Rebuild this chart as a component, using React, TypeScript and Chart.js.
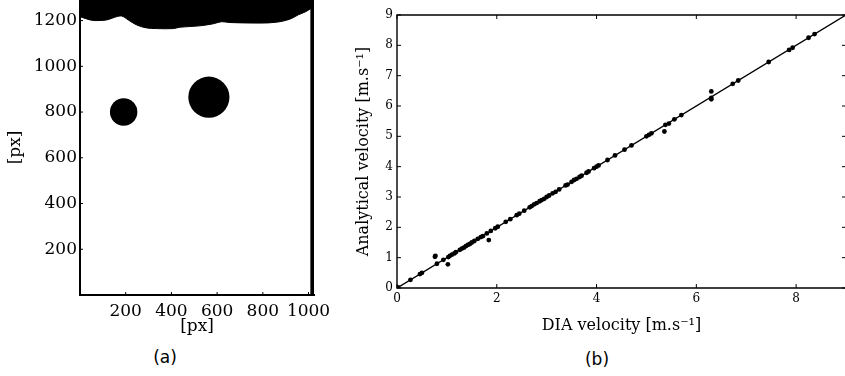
import React, { useEffect, useRef } from "react";
import { Chart, registerables } from "chart.js";

Chart.register(...registerables);

const SERIF = "'DejaVu Serif', serif";
const SANS = "'DejaVu Sans', sans-serif";
Chart.defaults.font.family = SERIF;
Chart.defaults.color = "#000";

// (a) binarised camera frame, in image pixels
const frameXTicks = [200, 400, 600, 800, 1000];
const frameYTicks = [200, 400, 600, 800, 1000, 1200];
const frameXMax = 1024;
const frameYMax = 1290;
const surfaceX = [0, 44, 66, 117, 153, 182, 211, 248, 291, 335, 408, 437, 524, 583, 619, 650, 670, 787, 860, 918, 955, 990, 1012, 1024];
const surfaceY = [1217, 1203, 1200, 1203, 1215, 1220, 1203, 1181, 1168, 1165, 1165, 1171, 1177, 1186, 1195, 1192, 1191, 1189, 1193, 1206, 1225, 1240, 1254, 1260];
const wallX = [1019, 1019];
const wallY = [0, 1290];
const dropX = [191, 564];
const dropY = [800, 865];
const dropRadius = [60, 90];

// (b) velocity comparison
const velXTicks = [0, 2, 4, 6, 8];
const velYTicks = [0, 1, 2, 3, 4, 5, 6, 7, 8, 9];
const velMax = 9;
const diaVelocity = [
  0.02, 0.27, 0.46, 0.5, 0.77, 0.76, 0.8, 0.93, 1.02, 1.03, 1.06, 1.1, 1.15, 1.18,
  1.26, 1.3, 1.34, 1.38, 1.42, 1.46, 1.5, 1.55, 1.62, 1.68, 1.72, 1.8, 1.84, 1.88,
  1.97, 2.02, 2.18, 2.27, 2.4, 2.45, 2.55, 2.66, 2.7, 2.75, 2.8, 2.86, 2.9, 2.95,
  3.0, 3.05, 3.12, 3.18, 3.25, 3.38, 3.42, 3.5, 3.55, 3.6, 3.66, 3.7, 3.8, 3.84,
  3.95, 4.0, 4.04, 4.22, 4.37, 4.56, 4.7, 5.0, 5.05, 5.1, 5.36, 5.38, 5.45, 5.56,
  5.7, 6.3, 6.3, 6.3, 6.73, 6.84, 7.45, 7.86, 7.93, 8.25, 8.37,
];
const analyticalVelocity = [
  0.02, 0.27, 0.46, 0.5, 1.06, 1.03, 0.8, 0.93, 0.78, 1.02, 1.06, 1.1, 1.14, 1.18,
  1.26, 1.3, 1.33, 1.38, 1.42, 1.45, 1.5, 1.55, 1.62, 1.68, 1.71, 1.8, 1.58, 1.88,
  1.97, 2.02, 2.18, 2.27, 2.4, 2.45, 2.55, 2.66, 2.7, 2.76, 2.8, 2.86, 2.9, 2.94,
  3.0, 3.05, 3.12, 3.17, 3.25, 3.38, 3.41, 3.5, 3.56, 3.6, 3.66, 3.7, 3.8, 3.84,
  3.95, 4.0, 4.04, 4.22, 4.37, 4.56, 4.7, 5.0, 5.05, 5.1, 5.16, 5.38, 5.42, 5.56,
  5.7, 6.48, 6.27, 6.22, 6.73, 6.84, 7.45, 7.85, 7.92, 8.25, 8.37,
];
const identityX = [0, 9];
const identityY = [0, 9];

type Side = "left" | "right" | "top" | "bottom";

// Axis lines and inward tick marks drawn on the chart area edges
function framePlugin(lineSides: Side[], tickSides: Side[], lineWidth: number, tickLen: number) {
  return {
    id: "frame",
    afterDraw(chart: any) {
      const { ctx, chartArea: a } = chart;
      const sx = chart.scales.x;
      const sy = chart.scales.y;
      ctx.save();
      ctx.strokeStyle = "#000";
      ctx.lineWidth = 1;
      ctx.beginPath();
      for (const t of sx.ticks) {
        const p = sx.getPixelForValue(t.value);
        if (tickSides.includes("bottom")) { ctx.moveTo(p, a.bottom); ctx.lineTo(p, a.bottom - tickLen); }
        if (tickSides.includes("top")) { ctx.moveTo(p, a.top); ctx.lineTo(p, a.top + tickLen); }
      }
      for (const t of sy.ticks) {
        const p = sy.getPixelForValue(t.value);
        if (tickSides.includes("left")) { ctx.moveTo(a.left, p); ctx.lineTo(a.left + tickLen, p); }
        if (tickSides.includes("right")) { ctx.moveTo(a.right, p); ctx.lineTo(a.right - tickLen, p); }
      }
      ctx.stroke();
      ctx.lineWidth = lineWidth;
      ctx.lineCap = "square";
      ctx.beginPath();
      if (lineSides.includes("left")) { ctx.moveTo(a.left, a.top); ctx.lineTo(a.left, a.bottom); }
      if (lineSides.includes("right")) { ctx.moveTo(a.right, a.top); ctx.lineTo(a.right, a.bottom); }
      if (lineSides.includes("top")) { ctx.moveTo(a.left, a.top); ctx.lineTo(a.right, a.top); }
      if (lineSides.includes("bottom")) { ctx.moveTo(a.left, a.bottom); ctx.lineTo(a.right, a.bottom); }
      ctx.stroke();
      ctx.restore();
    },
  };
}

function axis(
  min: number,
  max: number,
  ticks: number[],
  size: number,
  fontSize: number,
  tickPad: number,
  title: string,
  titleSize: number,
  titlePad: any,
  vertical: boolean
) {
  return {
    type: "linear",
    min,
    max,
    grid: { display: false, drawTicks: false },
    border: { display: false },
    afterBuildTicks: (scale: any) => {
      scale.ticks = ticks.map((v) => ({ value: v }));
    },
    afterFit: (scale: any) => {
      if (vertical) scale.width = size;
      else scale.height = size;
      scale.paddingLeft = 0;
      scale.paddingRight = 0;
      scale.paddingTop = 0;
      scale.paddingBottom = 0;
    },
    ticks: {
      color: "#000",
      padding: tickPad,
      autoSkip: false,
      maxRotation: 0,
      font: { family: SERIF, size: fontSize },
      callback: (v: any) => String(v),
    },
    title: {
      display: true,
      text: title,
      color: "#000",
      padding: titlePad,
      font: { family: SERIF, size: titleSize },
    },
  };
}

function frameConfig(): any {
  return {
    type: "scatter",
    data: {
      datasets: [
        {
          // liquid above the free surface
          type: "line",
          data: surfaceX.map((x, i) => ({ x, y: surfaceY[i] })),
          borderColor: "#000",
          backgroundColor: "#000",
          borderWidth: 1,
          pointRadius: 0,
          tension: 0.35,
          fill: "end",
        },
        {
          // container wall
          type: "line",
          data: wallX.map((x, i) => ({ x, y: wallY[i] })),
          borderColor: "#000",
          borderWidth: 5,
          pointRadius: 0,
          fill: false,
        },
        {
          // falling drops, radius given in image pixels
          data: dropX.map((x, i) => ({ x, y: dropY[i] })),
          backgroundColor: "#000",
          borderWidth: 0,
          pointRadius: (ctx: any) => {
            const s = ctx.chart.scales.x;
            return Math.abs(s.getPixelForValue(dropRadius[ctx.dataIndex]) - s.getPixelForValue(0));
          },
        },
      ],
    },
    options: {
      responsive: false,
      animation: false,
      events: [],
      layout: { padding: { top: 0, right: 31, left: 0, bottom: 0 } },
      plugins: { legend: { display: false }, tooltip: { enabled: false } },
      scales: {
        x: axis(0, frameXMax, frameXTicks, 47, 17, 6, "[px]", 17, { top: 0, bottom: 5 }, false),
        y: axis(0, frameYMax, frameYTicks, 80, 17, 3, "[px]", 17, { top: 5, bottom: 0 }, true),
      },
    },
    plugins: [framePlugin(["left", "bottom"], ["left", "bottom"], 2, 3)],
  };
}

function velocityConfig(): any {
  return {
    type: "scatter",
    data: {
      datasets: [
        {
          type: "line",
          data: identityX.map((x, i) => ({ x, y: identityY[i] })),
          borderColor: "#000",
          borderWidth: 1.4,
          pointRadius: 0,
          fill: false,
        },
        {
          data: diaVelocity.map((x, i) => ({ x, y: analyticalVelocity[i] })),
          backgroundColor: "#000",
          borderWidth: 0,
          pointRadius: 2.4,
        },
      ],
    },
    options: {
      responsive: false,
      animation: false,
      events: [],
      layout: { padding: { top: 15, right: 3, left: 0, bottom: 0 } },
      plugins: { legend: { display: false }, tooltip: { enabled: false } },
      scales: {
        x: axis(0, velMax, velXTicks, 54, 12, 4, "DIA velocity [m.s\u207B\u00B9]", 16, { top: 0, bottom: 7 }, false),
        y: axis(0, velMax, velYTicks, 57, 12, 4, "Analytical velocity [m.s\u207B\u00B9]", 16, { top: 14, bottom: 0 }, true),
      },
    },
    plugins: [framePlugin(["left", "right", "top", "bottom"], ["left", "right", "top", "bottom"], 1.4, 4)],
  };
}

function ChartCanvas({ make, left, width, height }: { make: () => any; left: number; width: number; height: number }) {
  const ref = useRef<HTMLCanvasElement>(null);
  useEffect(() => {
    const chart = new Chart(ref.current as HTMLCanvasElement, make());
    return () => chart.destroy();
  }, [make]);
  return (
    <canvas
      ref={ref}
      width={width}
      height={height}
      style={{ position: "absolute", left, top: 0, width, height }}
    />
  );
}

const captionStyle: React.CSSProperties = {
  position: "absolute",
  width: 80,
  textAlign: "center",
  fontFamily: SANS,
  fontSize: 17,
  lineHeight: "20px",
  color: "#000",
};

export default function App() {
  return (
    <div
      style={{
        position: "absolute",
        left: 0,
        top: 0,
        width: 845,
        height: 376,
        overflow: "hidden",
        background: "#fff",
      }}
    >
      <ChartCanvas make={frameConfig} left={0} width={345} height={342} />
      <ChartCanvas make={velocityConfig} left={340} width={510} height={342} />
      <div style={{ ...captionStyle, left: 125, top: 347 }}>(a)</div>
      <div style={{ ...captionStyle, left: 557, top: 349 }}>(b)</div>
    </div>
  );
}
